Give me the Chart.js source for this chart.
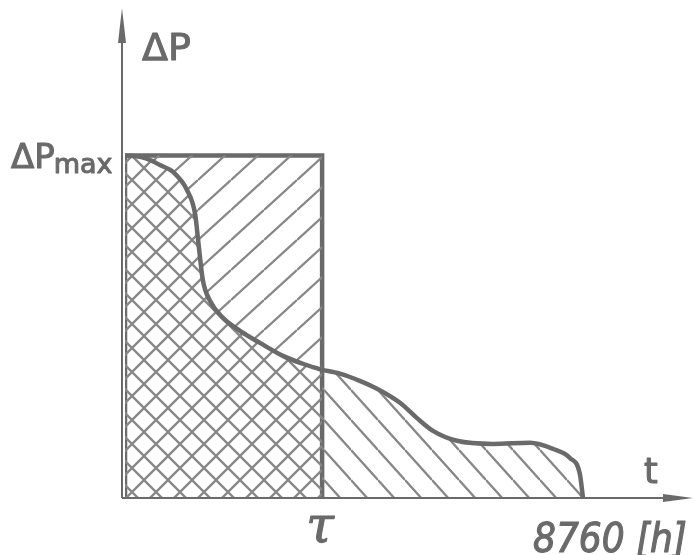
<!DOCTYPE html>
<html>
<head>
<meta charset="utf-8">
<script src="https://cdn.jsdelivr.net/npm/chart.js@4"></script>
<style>
  html, body { margin: 0; padding: 0; background: #fff; }
  #wrap { width: 694px; height: 555px; }
</style>
</head>
<body>
<div id="wrap"><canvas id="c" width="694" height="555"></canvas></div>
<script>
// load duration curve: time in hours, load relative to ΔPmax
const hours = [0, 290, 480, 670, 920, 1190, 1340, 1400, 1435, 1490, 1625, 1875, 2200, 2580, 3020, 3400, 3770,
    4110, 4490, 4820, 5260, 5580, 5890, 6350, 7040, 7750, 8190, 8510, 8700, 8760];
const load = [1.0, 0.996, 0.987, 0.972, 0.952, 0.898, 0.83, 0.751, 0.702, 0.635, 0.576, 0.526, 0.488, 0.453, 0.415, 0.392, 0.374,
    0.363, 0.342, 0.319, 0.278, 0.234, 0.196, 0.167, 0.158, 0.161, 0.143, 0.117, 0.07, 0];
const tau = 3770;
const yearHours = 8760;
const pMax = 1;
const tickLabels = { tau: 'τ', year: '8760 [h]', yAxis: 'ΔP', xAxis: 't', pMax: 'ΔP', pMaxSub: 'max' };

const INK = '#6a6a6a';
const HATCH = '#878787';

const curve = hours.map((h, i) => ({ x: h, y: load[i] }));
const leftPart = curve.filter(p => p.x <= tau);
const rightPart = curve.filter(p => p.x >= tau);
const rectTop = leftPart.map(p => ({ x: p.x, y: pMax }));
const outline = [{ x: 0, y: 0 }, { x: 0, y: pMax }, { x: tau, y: pMax }, { x: tau, y: 0 }];

function hatch(w, h, dirs) {
    const c = document.createElement('canvas');
    c.width = w;
    c.height = h;
    const g = c.getContext('2d');
    g.strokeStyle = HATCH;
    g.lineWidth = 2.3;
    g.beginPath();
    for (let k = -1; k <= 1; k++) {
        if (dirs.includes('/')) {
            g.moveTo(0, h + k * h);
            g.lineTo(w, k * h);
        }
        if (dirs.includes('\\')) {
            g.moveTo(0, k * h);
            g.lineTo(w, h + k * h);
        }
    }
    g.stroke();
    return g.createPattern(c, 'repeat');
}

const crossFill = hatch(24, 24, '/\\');
const upperFill = hatch(33, 30, '/');
const lowerFill = hatch(27, 30, '\\');

function label(ctx, text, x, y) {
    ctx.fillText(text, x, y);
    ctx.strokeText(text, x, y);
}

// axes arrows and labels
const decor = {
    id: 'decor',
    afterDatasetsDraw(chart) {
        const { ctx, chartArea, scales: { x, y } } = chart;
        const x0 = x.getPixelForValue(0) - 3;
        const y0 = y.getPixelForValue(0);
        ctx.save();
        ctx.strokeStyle = INK;
        ctx.fillStyle = INK;
        ctx.lineWidth = 2;
        ctx.beginPath();
        ctx.moveTo(x0, y0);
        ctx.lineTo(x0, chartArea.top + 10);
        ctx.moveTo(x0, y0);
        ctx.lineTo(chartArea.right - 10, y0);
        ctx.stroke();
        // arrow heads
        ctx.beginPath();
        ctx.moveTo(x0, chartArea.top);
        ctx.lineTo(x0 - 4, chartArea.top + 35);
        ctx.lineTo(x0 + 4, chartArea.top + 35);
        ctx.closePath();
        ctx.moveTo(chartArea.right, y0);
        ctx.lineTo(chartArea.right - 30, y0 - 4);
        ctx.lineTo(chartArea.right - 30, y0 + 4);
        ctx.closePath();
        ctx.fill();

        ctx.lineWidth = 1.1;
        ctx.lineJoin = 'round';
        ctx.textBaseline = 'alphabetic';
        ctx.textAlign = 'left';
        ctx.font = '38px "DejaVu Sans"';
        label(ctx, tickLabels.yAxis, x0 + 20, chartArea.top + 52);
        ctx.font = '35px "DejaVu Sans"';
        label(ctx, tickLabels.xAxis, chartArea.right - 49, y0 - 15);

        const yMax = y.getPixelForValue(pMax);
        ctx.font = '34px "DejaVu Sans"';
        label(ctx, tickLabels.pMax, 11, yMax + 12);
        const w = ctx.measureText(tickLabels.pMax).width;
        ctx.font = '27px "DejaVu Sans"';
        label(ctx, tickLabels.pMaxSub, 11 + w - 1, yMax + 17);

        ctx.textAlign = 'center';
        ctx.font = 'italic 50px "DejaVu Serif"';
        label(ctx, tickLabels.tau, x.getPixelForValue(tau) - 2, y0 + 44);
        ctx.textAlign = 'left';
        ctx.font = 'italic 40px "DejaVu Sans Condensed", "DejaVu Sans"';
        label(ctx, tickLabels.year, x.getPixelForValue(yearHours) - 50, y0 + 54);
        ctx.restore();
    }
};

const lineBase = { pointRadius: 0, borderCapStyle: 'round', borderJoinStyle: 'round' };

new Chart(document.getElementById('c'), {
    type: 'line',
    data: {
        datasets: [
            { ...lineBase, data: leftPart, fill: 'origin', backgroundColor: crossFill,
              borderColor: INK, borderWidth: 4.5, cubicInterpolationMode: 'monotone' },
            { ...lineBase, data: rightPart, fill: 'origin', backgroundColor: lowerFill,
              borderColor: INK, borderWidth: 4.5, cubicInterpolationMode: 'monotone' },
            { ...lineBase, data: rectTop, fill: 0, backgroundColor: upperFill,
              borderWidth: 0, borderColor: 'rgba(0,0,0,0)' },
            { ...lineBase, data: outline, fill: false, borderColor: INK, borderWidth: 4.5,
              borderJoinStyle: 'miter', borderCapStyle: 'butt' }
        ]
    },
    options: {
        responsive: false,
        animation: false,
        events: [],
        layout: { padding: { left: 125, right: 1, top: 8, bottom: 57 } },
        plugins: { legend: { display: false }, tooltip: { enabled: false } },
        scales: {
            x: { type: 'linear', display: false, min: 0, max: 10864 },
            y: { type: 'linear', display: false, min: 0, max: 1.4307 }
        }
    },
    plugins: [decor]
});
</script>
</body>
</html>
